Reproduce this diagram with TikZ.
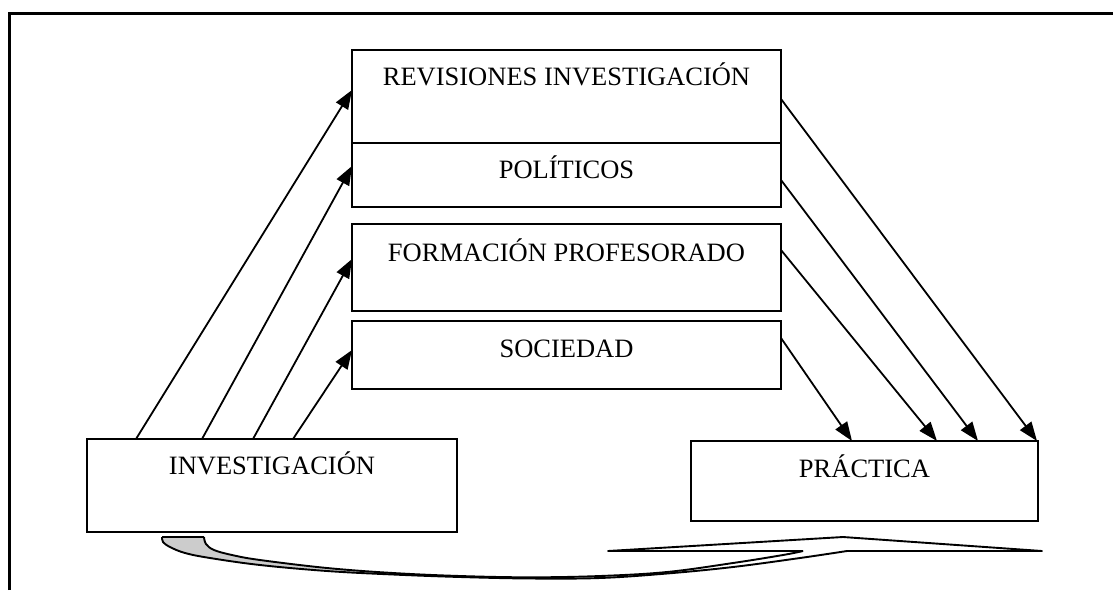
\documentclass[tikz,border=0pt]{standalone}
\usepackage{fontspec}
\setmainfont{Liberation Serif}
\usetikzlibrary{arrows.meta}
\begin{document}
\begin{tikzpicture}[x=1pt,y=-1pt,
  box/.style={draw, line width=2.2pt, rectangle, inner sep=0pt, outer sep=0pt, anchor=north west},
  lbl/.style={font=\fontsize{26.5}{30}\selectfont, anchor=base, inner sep=0pt},
  arr/.style={line width=1.8pt, -{Triangle[length=19pt,width=14pt]}},
  band/.style={line width=1.9pt, line join=round},
  ]
\useasboundingbox (0,0) rectangle (1113,590);
% outer frame
\draw[line width=3pt] (9,590) -- (9,13) -- (1113,13);
% boxes
\node[box, minimum width=429pt, minimum height=93pt] (rev) at (352,50) {};
\node[box, minimum width=429pt, minimum height=64pt] (pol) at (352,143) {};
\node[box, minimum width=429pt, minimum height=87pt] (form) at (352,224) {};
\node[box, minimum width=429pt, minimum height=68pt] (soc) at (352,321) {};
\node[box, minimum width=370pt, minimum height=93pt] (inv) at (87,439) {};
\node[box, minimum width=347pt, minimum height=80pt] (pra) at (691,441) {};
% labels
\node[lbl] (revt) at ([yshift=-35pt]rev.north) {REVISIONES INVESTIGACIÓN};
\node[lbl] (polt) at ([yshift=-35pt]pol.north) {POLÍTICOS};
\node[lbl] (formt) at ([yshift=-37pt]form.north) {FORMACIÓN PROFESORADO};
\node[lbl] (soct) at ([yshift=-36pt]soc.north) {SOCIEDAD};
\node[lbl] (invt) at ([yshift=-35pt]inv.north) {INVESTIGACIÓN};
\node[lbl] (prat) at ([yshift=-36pt]pra.north) {PRÁCTICA};
% arrows from INVESTIGACIÓN
\draw[arr] ([xshift=49pt]inv.north west) -- ([yshift=-40pt]rev.north west);
\draw[arr] ([xshift=115pt]inv.north west) -- ([yshift=-23pt]pol.north west);
\draw[arr] ([xshift=166pt]inv.north west) -- ([yshift=-35pt]form.north west);
\draw[arr] ([xshift=206pt]inv.north west) -- ([yshift=-29pt]soc.north west);
% arrows to PRÁCTICA
\draw[arr] ([yshift=-49pt]rev.north east) -- ([xshift=346pt]pra.north west);
\draw[arr] ([yshift=-37pt]pol.north east) -- ([xshift=287pt]pra.north west);
\draw[arr] ([yshift=-26pt]form.north east) -- ([xshift=246pt]pra.north west);
\draw[arr] ([yshift=-17pt]soc.north east) -- ([xshift=161pt]pra.north west);
% curved return arrow
\fill[gray!40!white] plot[smooth, tension=0.6] coordinates {(204,537) (206,544) (214,550) (232,555) (260,560) (327,568) (393,573) (460,576.2)}
  -- plot[smooth, tension=0.6] coordinates {(460,577) (393,574.5) (327,571) (260,565) (210,558) (185,553) (170,547) (163,542) (162,537)} -- cycle;
\draw[band] (162,537) -- (204,537);
\draw[band] plot[smooth, tension=0.6] coordinates {(204,537) (206,544) (214,550) (232,555) (260,560) (327,568) (393,573) (460,576) (530,577.3) (600,576) (667,572) (733,563) (783,555) (803,551)};
\draw[band] plot[smooth, tension=0.6] coordinates {(162,537) (163,542) (170,547) (185,553) (210,558) (260,565) (327,571) (393,574.5) (460,577) (530,578.5) (600,578) (667,573.5) (733,567) (800,558) (847,551)};
\draw[band] (803,551) -- (608,551) -- (843,537) -- (1042,551) -- (847,551);
\end{tikzpicture}
\end{document}
